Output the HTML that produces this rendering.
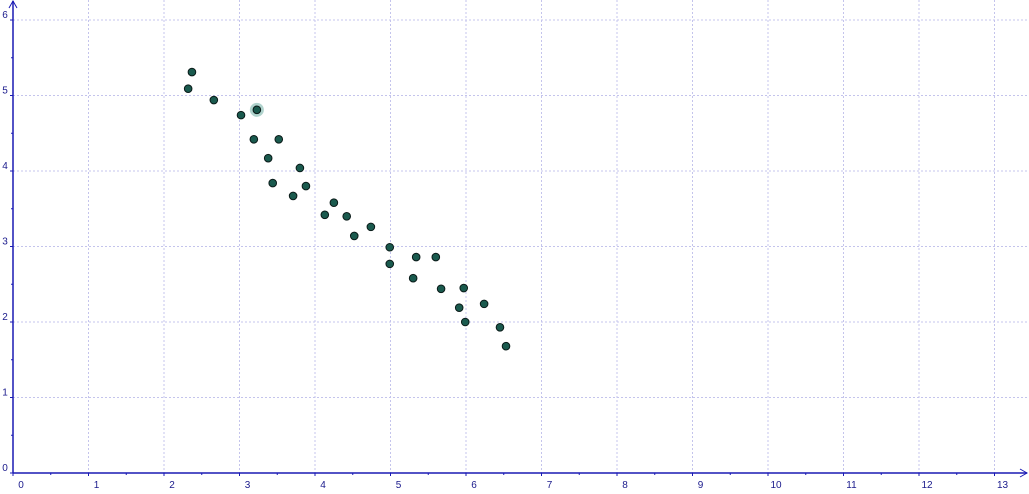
<!DOCTYPE html>
<html><head><meta charset="utf-8"><style>
html,body{margin:0;padding:0;background:#fff;}
svg{display:block;font-family:"Liberation Sans",sans-serif;}
</style></head><body>
<svg id="chart" width="1029" height="494"></svg>
<script>
const xVals=[2.32,2.37,2.66,3.02,3.23,3.19,3.52,3.38,3.80,3.44,3.88,3.71,4.13,4.25,4.42,4.52,4.74,4.99,4.99,5.34,5.60,5.30,5.67,5.97,5.91,6.24,5.99,6.45,6.53];
const yVals=[5.09,5.31,4.94,4.74,4.81,4.42,4.42,4.17,4.04,3.84,3.80,3.67,3.42,3.58,3.40,3.14,3.26,2.99,2.77,2.86,2.86,2.58,2.44,2.45,2.19,2.24,2.00,1.93,1.68];
const highlighted=[4];
const xTicks=[0,1,2,3,4,5,6,7,8,9,10,11,12,13];
const yTicks=[0,1,2,3,4,5,6];
const NS="http://www.w3.org/2000/svg";
const svg=document.getElementById('chart');
const X0=13,Y0=473,S=75.5;
const sx=v=>X0+v*S, sy=v=>Y0-v*S;
function mk(t,a,p){const e=document.createElementNS(NS,t);for(const k in a)e.setAttribute(k,a[k]);(p||svg).appendChild(e);return e;}
const grid=mk('g',{});


xTicks.forEach(t=>{if(t===0)return;mk('line',{x1:sx(t),x2:sx(t),y1:0,y2:Y0,stroke:'#c4c4ec','stroke-width':1,'stroke-dasharray':'2,2'},grid);});
yTicks.forEach(t=>{if(t===0)return;mk('line',{x1:X0,x2:1029,y1:sy(t),y2:sy(t),stroke:'#c4c4ec','stroke-width':1,'stroke-dasharray':'2,2'},grid);});
const ax=mk('g',{});


mk('line',{x1:X0,x2:1027,y1:Y0,y2:Y0,stroke:'#1a1ab4','stroke-width':1.5},ax);
mk('line',{x1:X0,x2:X0,y1:1,y2:Y0,stroke:'#1a1ab4','stroke-width':1.5},ax);
mk('path',{d:`M${1020},${Y0-4} L1027,${Y0} L1020,${Y0+4}`,fill:'none',stroke:'#1a1ab4'},ax);
mk('path',{d:`M${X0-4},8 L${X0},1 L${X0+4},8`,fill:'none',stroke:'#1a1ab4'},ax);
xTicks.forEach(t=>{
  mk('line',{x1:sx(t),x2:sx(t),y1:Y0,y2:Y0+3,stroke:'#1a1ab4'},ax);
  mk('line',{x1:sx(t+0.5),x2:sx(t+0.5),y1:Y0,y2:Y0+2,stroke:'#1a1ab4'},ax);
  const tx=mk('text',{x:sx(t)+8,y:Y0+15,'font-size':10,fill:'#1a1a8c','text-anchor':'middle'},ax);
  tx.textContent=t;
  
  
});
yTicks.forEach(t=>{
  mk('line',{x1:X0-3,x2:X0,y1:sy(t),y2:sy(t),stroke:'#1a1ab4'},ax);
  mk('line',{x1:X0-2,x2:X0,y1:sy(t+0.5),y2:sy(t+0.5),stroke:'#1a1ab4'},ax);
  const ty=mk('text',{x:5,y:sy(t)-2,'font-size':10,fill:'#1a1a8c','text-anchor':'middle'},ax);
  ty.textContent=t;
  
  
});
const pts=mk('g',{});


xVals.forEach((v,i)=>{
  if(highlighted.includes(i)){const h=mk('circle',{cx:sx(v),cy:sy(yVals[i]),r:7,fill:'#9cc8c0',opacity:0.8},pts);
    
    }
  const c=mk('circle',{cx:sx(v),cy:sy(yVals[i]),r:3.8,fill:'#1a5a4e',stroke:'#0a1a18','stroke-width':1},pts);
  
  
});
</script>
</body></html>
